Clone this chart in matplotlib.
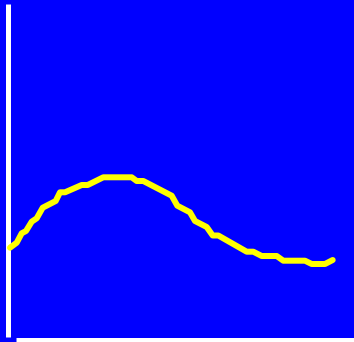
import matplotlib
matplotlib.use("Agg")
import matplotlib.pyplot as plt

x_vals = [10, 16.7, 21.7, 26, 31.7, 36.7, 42.7, 55.7, 60, 65, 81.7, 87.7, 103.3, 131.7,
          136.7, 143.3, 171.7, 177.3, 190, 195, 206.7, 212.7, 218.3, 246.7, 253.3, 261.7,
          276.7, 283.3, 305, 311.7, 325, 332.7]
y_vals = [94.3, 99.3, 108.7, 111, 120.3, 123.7, 134.3, 141, 149.7, 149.7, 157, 157, 164.7,
          164.7, 161, 161, 146.3, 136.3, 129.7, 121, 115, 106.5, 106.5, 90.3, 90.3, 86, 86,
          81.3, 81.3, 78, 78, 82]

DPI = 100
fig = plt.figure(figsize=(3.54, 3.42), dpi=DPI)
fig.patch.set_facecolor("#0000ff")
ax = fig.add_axes([0, 0, 1, 1])
ax.set_facecolor("#0000ff")
ax.set_xlim(0, 354)
ax.set_ylim(0, 342)
for s in ax.spines.values():
    s.set_visible(False)
ax.set_xticks([])
ax.set_yticks([])

px = 72 / DPI
# axis lines
ax.plot([7.5, 7.5], [5, 338], color="white", linewidth=5 * px,
        solid_capstyle="butt", clip_on=False)
ax.plot([16, 354], [2.5, 2.5], color="white", linewidth=5 * px,
        solid_capstyle="butt", clip_on=False)

ax.plot(x_vals, y_vals, color="#ffff00", linewidth=6 * px,
        solid_capstyle="round", solid_joinstyle="round")

fig.savefig("out.png", dpi=DPI, facecolor=fig.get_facecolor())
